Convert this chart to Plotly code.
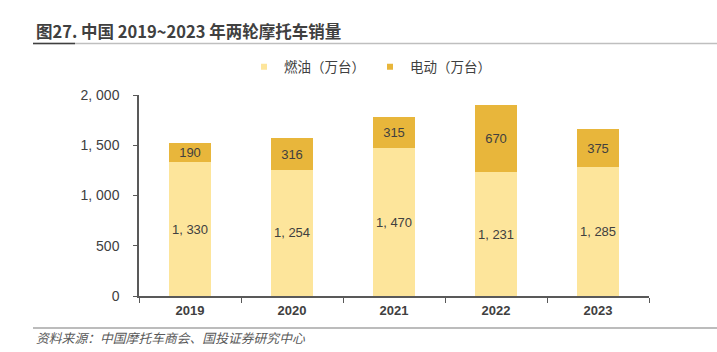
import plotly.graph_objects as go

years = ["2019", "2020", "2021", "2022", "2023"]
fuel = [1330, 1254, 1470, 1231, 1285]
electric = [190, 316, 315, 670, 375]
y_ticks = [0, 500, 1000, 1500, 2000]
name_fuel = "燃油（万台）"
name_elec = "电动（万台）"
title_text = "图27. 中国 2019~2023 年两轮摩托车销量"
source_text = "资料来源：中国摩托车商会、国投证券研究中心"

W, H = 717, 352
L, R, T, B = 139, 68, 95, 56
ph = H - T - B
pw = W - L - R

c_fuel = "#FDE59B"
c_elec = "#E8B63B"

def px_x(p):
    return (p - L) / pw

def px_y(p):
    return (H - B - p) / ph

def fmt(v):
    return f"{v:,}".replace(",", ", ")

font_cn = "Noto Sans CJK SC, Arial, sans-serif"

fig = go.Figure()
fig.add_trace(go.Bar(x=years, y=fuel, name=name_fuel, marker_color=c_fuel,
                     marker_line_width=0, showlegend=False,
                     text=[fmt(v) for v in fuel], textposition="inside",
                     insidetextanchor="middle", textangle=0,
                     textfont=dict(size=13, color="#404040", family="Arial")))
fig.add_trace(go.Bar(x=years, y=electric, name=name_elec, marker_color=c_elec,
                     marker_line_width=0, showlegend=False,
                     text=[fmt(v) for v in electric], textposition="inside",
                     insidetextanchor="middle", textangle=0,
                     textfont=dict(size=13, color="#404040", family="Arial")))
for nm, c in [(name_fuel, c_fuel), (name_elec, c_elec)]:
    fig.add_trace(go.Scatter(x=[None], y=[None], mode="markers", name=nm,
                             marker=dict(symbol="square", size=6, color=c)))

fig.update_layout(
    width=W, height=H, barmode="stack", bargap=0.59,
    margin=dict(l=L, r=R, t=T, b=B, pad=0),
    plot_bgcolor="white", paper_bgcolor="white",
    uniformtext=dict(minsize=13, mode="show"),
    showlegend=True,
    legend=dict(orientation="h", x=px_x(244), y=px_y(67), yanchor="middle",
                xanchor="left", font=dict(size=13.5, color="#404040", family=font_cn),
                traceorder="normal", itemwidth=30, tracegroupgap=0),
    font=dict(family=font_cn),
)
fig.update_xaxes(showline=True, linecolor="#595959", linewidth=1.5,
                 ticks="outside", tickson="boundaries", ticklen=5, tickcolor="#595959",
                 ticklabelstandoff=2,
                 tickfont=dict(size=13, color="#404040", family="Arial", weight="bold"),
                 range=[-0.5, 4.5])
fig.update_yaxes(range=[0, 2000], showline=True, linecolor="#595959", linewidth=1.5,
                 ticks="outside", ticklen=4, tickcolor="#595959", showgrid=False,
                 tickvals=y_ticks, ticktext=[fmt(v) for v in y_ticks],
                 ticklabelstandoff=11,
                 tickfont=dict(size=14, color="#404040", family="Arial"),
                 zeroline=False)

fig.add_annotation(text=f"<b>{title_text}</b>", xref="paper", yref="paper",
                   x=px_x(34), y=px_y(31), xanchor="left", yanchor="middle",
                   showarrow=False, font=dict(size=16.5, color="#404040", family=font_cn))
fig.add_annotation(text=f"<i>{source_text}</i>", xref="paper", yref="paper",
                   x=px_x(34), y=px_y(337), xanchor="left", yanchor="middle",
                   showarrow=False, font=dict(size=12.8, color="#595959", family=font_cn))

fig.add_shape(type="line", xref="paper", yref="paper", x0=px_x(33), x1=px_x(717),
              y0=px_y(43.5), y1=px_y(43.5), line=dict(color="#BFBFBF", width=1.5))
fig.add_shape(type="line", xref="paper", yref="paper", x0=px_x(33), x1=px_x(75),
              y0=px_y(43.5), y1=px_y(43.5), line=dict(color="#404040", width=1.5))
fig.add_shape(type="line", xref="paper", yref="paper", x0=px_x(33), x1=px_x(717),
              y0=px_y(328), y1=px_y(328), line=dict(color="#A6A6A6", width=1.5))

fig.write_html("out.html")
